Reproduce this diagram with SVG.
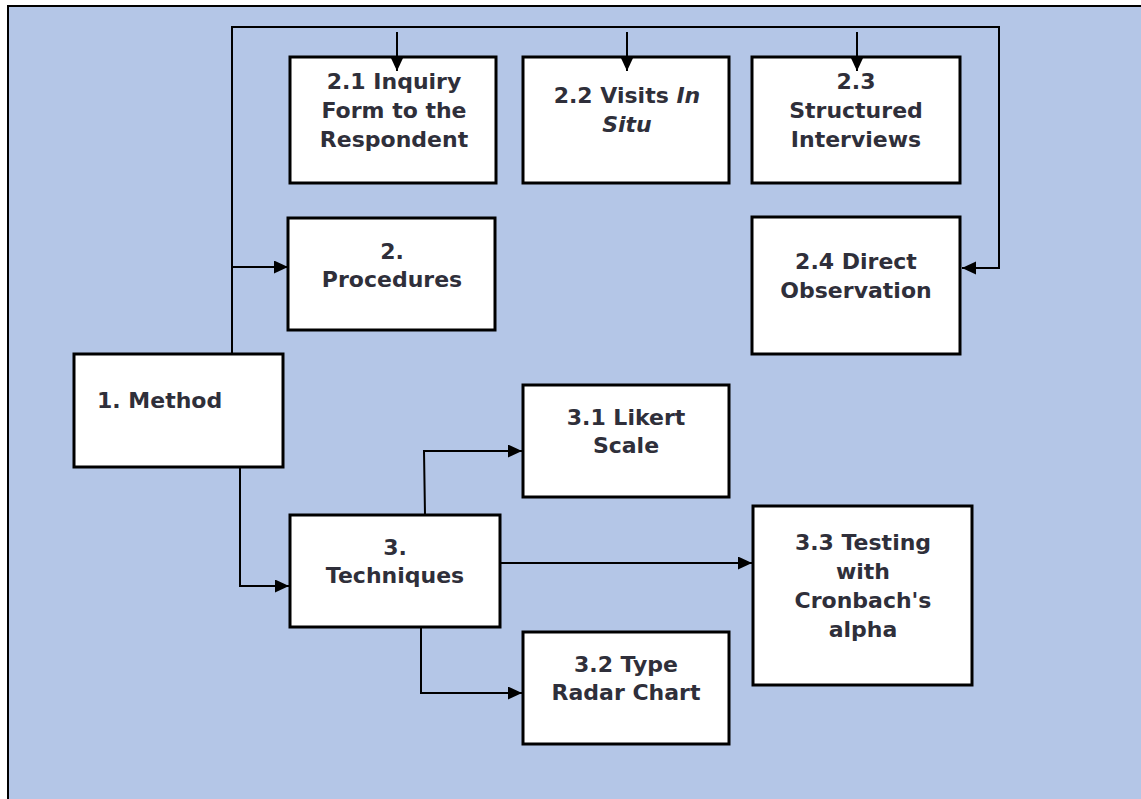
<svg xmlns="http://www.w3.org/2000/svg" width="1141" height="799" viewBox="0 0 1141 799">
<style>
.box{fill:#ffffff;stroke:#000;stroke-width:3}
.t{font-family:"DejaVu Sans",Verdana,sans-serif;font-weight:bold;font-size:22px;fill:#2f2f3a;text-anchor:middle}
.l{text-anchor:start}
.c{fill:none;stroke:#000;stroke-width:2}
</style>
<defs>
<marker id="ah" markerUnits="userSpaceOnUse" markerWidth="15" markerHeight="14" refX="14" refY="6.5" orient="auto">
<path d="M0,0 L14,6.5 L0,13 z" fill="#000"/>
</marker>
</defs>
<rect x="8" y="6" width="1145" height="805" fill="#B4C6E7" stroke="#000" stroke-width="2"/>
<g id="n21"><rect class="box" x="290" y="57" width="206" height="126"/>
<text class="t" x="394" y="89">2.1 Inquiry</text><text class="t" x="394" y="118">Form to the</text><text class="t" x="394" y="147">Respondent</text></g>
<g id="n22"><rect class="box" x="523" y="57" width="206" height="126"/>
<text class="t" x="627" y="103">2.2 Visits <tspan font-style="italic">In</tspan></text><text class="t" x="627" y="132" font-style="italic">Situ</text></g>
<g id="n23"><rect class="box" x="752" y="57" width="208" height="126"/>
<text class="t" x="856" y="89">2.3</text><text class="t" x="856" y="118">Structured</text><text class="t" x="856" y="147">Interviews</text></g>
<g id="n2"><rect class="box" x="288" y="218" width="207" height="112"/>
<text class="t" x="392" y="259">2.</text><text class="t" x="392" y="287">Procedures</text></g>
<g id="n24"><rect class="box" x="752" y="217" width="208" height="137"/>
<text class="t" x="856" y="269">2.4 Direct</text><text class="t" x="856" y="298">Observation</text></g>
<g id="n1"><rect class="box" x="74" y="354" width="209" height="113"/>
<text class="t l" x="97" y="408">1. Method</text></g>
<g id="n3"><rect class="box" x="290" y="515" width="210" height="112"/>
<text class="t" x="395" y="555">3.</text><text class="t" x="395" y="583">Techniques</text></g>
<g id="n31"><rect class="box" x="523" y="385" width="206" height="112"/>
<text class="t" x="626" y="425">3.1 Likert</text><text class="t" x="626" y="453">Scale</text></g>
<g id="n32"><rect class="box" x="523" y="632" width="206" height="112"/>
<text class="t" x="626" y="672">3.2 Type</text><text class="t" x="626" y="700">Radar Chart</text></g>
<g id="n33"><rect class="box" x="753" y="506" width="219" height="179"/>
<text class="t" x="863" y="550">3.3 Testing</text><text class="t" x="863" y="579">with</text><text class="t" x="863" y="608">Cronbach's</text><text class="t" x="863" y="637">alpha</text></g>
<g id="connectors">
<polyline class="c" points="232,353 232,27 999,27 999,268 962,268" marker-end="url(#ah)"/>
<line class="c" x1="232" y1="267" x2="288" y2="267" marker-end="url(#ah)"/>
<line class="c" x1="397" y1="32" x2="397" y2="71" marker-end="url(#ah)"/>
<line class="c" x1="627" y1="32" x2="627" y2="71" marker-end="url(#ah)"/>
<line class="c" x1="857" y1="32" x2="857" y2="71" marker-end="url(#ah)"/>
<polyline class="c" points="240,467 240,586 289,586" marker-end="url(#ah)"/>
<polyline class="c" points="425,515 424,451 522,451" marker-end="url(#ah)"/>
<line class="c" x1="500" y1="563" x2="752" y2="563" marker-end="url(#ah)"/>
<polyline class="c" points="421,627 421,693 522,693" marker-end="url(#ah)"/>
</g>
</svg>
